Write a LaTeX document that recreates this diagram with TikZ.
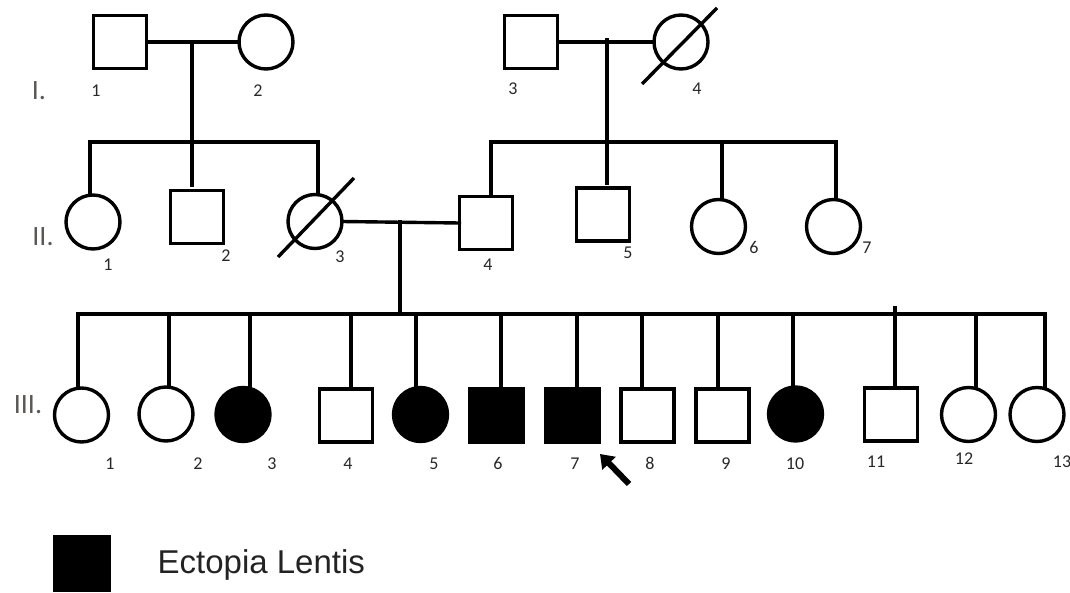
\documentclass[tikz,border=0pt]{standalone}
\usepackage{fontspec}
\setmainfont{Carlito}
\newfontfamily\legendfont{Liberation Sans}
\usetikzlibrary{arrows.meta}
\definecolor{numgray}{RGB}{40,40,40}
\definecolor{gengray}{RGB}{90,88,86}
\definecolor{legtext}{RGB}{35,35,35}

\begin{document}
\begin{tikzpicture}[x=1pt,y=-1pt,
  line width=3.4pt,
  msq/.style={draw, rectangle, minimum size=53pt, inner sep=0pt, outer sep=0pt, fill=white},
  fcirc/.style={draw, circle, minimum size=54pt, inner sep=0pt, outer sep=0pt, fill=white},
  aff/.style={fill=black},
  link/.style={line width=3.4pt, line cap=rect},
  slash/.style={line width=3.4pt},
  num/.style={font=\fontsize{18}{18}\selectfont, text=numgray, inner sep=0pt, anchor=base, yshift=-6pt},
  gen/.style={font=\fontsize{28}{28}\selectfont, text=gengray, inner sep=0pt},
]
\useasboundingbox (0,0) rectangle (1070,593);

% ---------- generation I ----------
\node[msq]   (I1) at (120,42) {};
\node[fcirc] (I2) at (266,42) {};
\node[msq]   (I3) at (531,42) {};
\node[fcirc] (I4) at (681,42) {};
\coordinate (d4a) at (642,84);
\coordinate (d4b) at (717,8);
\draw[slash] (d4a) -- (d4b);

\node[num] (nI1) at (96,91)  {1};
\node[num] (nI2) at (258,91) {2};
\node[num] (nI3) at (513,89) {3};
\node[num] (nI4) at (697,89) {4};
\node[gen] (gI) at (39,91) {I.};

% couples and descent of generation I
\coordinate (mA) at (192,42);
\coordinate (mB) at (607,40);
\coordinate (sA) at (192,142);
\coordinate (sAl) at (90,142);
\coordinate (sAr) at (318,142);
\coordinate (sBl) at (491,142);
\coordinate (sB6) at (722,142);
\coordinate (sBr) at (836,142);
\draw[link] (I1.east) -- (I2.west);
\draw[link] (I3.east) -- (I4.west);
\draw[link] (mA) -- (sA);
\draw[link] (sAl) -- (sAr);
\draw[link] (sBl) -- (sBr);

% ---------- generation II ----------
\node[fcirc] (II1) at (93,222)    {};
\node[msq]   (II2) at (197,217)   {};
\node[fcirc] (II3) at (315,221.5) {};
\node[msq]   (II4) at (486,223)   {};
\node[msq]   (II5) at (603,214.5) {};
\node[fcirc] (II6) at (718.5,226.5) {};
\node[fcirc] (II7) at (833.5,226.5) {};
\coordinate (d3a) at (278,257);
\coordinate (d3b) at (354,178);
\draw[slash] (d3a) -- (d3b);

\draw[link] (sAl) -- (sAl |- II1.north);
\draw[link, shorten >=5pt] (sA) -- (sA |- II2.north);
\draw[link] (sAr) -- (sAr |- II3.north);
\draw[link] (sBl) -- (sBl |- II4.north);
\draw[link, shorten >=5pt] (mB) -- (mB |- II5.north);
\draw[link] (sB6) -- (sB6 |- II6.north);
\draw[link] (sBr) -- (sBr |- II7.north);

\node[num] (nII1) at (108,265) {1};
\node[num] (nII2) at (226,256) {2};
\node[num] (nII3) at (340,257) {3};
\node[num] (nII4) at (488,265) {4};
\node[num] (nII5) at (628,253) {5};
\node[num] (nII6) at (754,248) {6};
\node[num] (nII7) at (867,248) {7};
\node[gen] (gII) at (43,237) {II.};

% couple II.3 x II.4 and its sibship
\coordinate (mC) at (400,222);
\coordinate (sC) at (400,314);
\coordinate (sCl) at (78,314);
\coordinate (sCr) at (1045,314);
\draw[link] (II3.east) -- (II4.west);
\draw[link] (mC) -- (sC);
\draw[link] (sCl) -- (sCr);

% ---------- generation III ----------
\node[fcirc]      (III1)  at (81.5,415)   {};
\node[fcirc]      (III2)  at (166,414)    {};
\node[fcirc,aff]  (III3)  at (243,414.5)  {};
\node[msq]        (III4)  at (346,415.5)  {};
\node[fcirc,aff]  (III5)  at (420.5,414.5){};
\node[msq,aff]    (III6)  at (496.5,415.5){};
\node[msq,aff]    (III7)  at (572.5,415.5){};
\node[msq]        (III8)  at (647.5,415.5){};
\node[msq]        (III9)  at (722.5,415.5){};
\node[fcirc,aff]  (III10) at (795.5,414)  {};
\node[msq]        (III11) at (891,414.5)  {};
\node[fcirc]      (III12) at (968.5,414.5){};
\node[fcirc]      (III13) at (1037,414.5) {};

\coordinate (c2)  at (169,314);
\coordinate (c3)  at (250,314);
\coordinate (c4)  at (351,314);
\coordinate (c5)  at (416,314);
\coordinate (c6)  at (501,314);
\coordinate (c7)  at (577,314);
\coordinate (c8)  at (642,314);
\coordinate (c9)  at (718,314);
\coordinate (c10) at (793,314);
\coordinate (c11) at (895,308);
\coordinate (c12) at (976,314);
\draw[link] (sCl) -- (sCl |- III1.north);
\draw[link] (c2)  -- (c2 |- III2.north);
\draw[link] (c3)  -- (c3 |- III3.north);
\draw[link] (c4)  -- (c4 |- III4.north);
\draw[link] (c5)  -- (c5 |- III5.north);
\draw[link] (c6)  -- (c6 |- III6.north);
\draw[link] (c7)  -- (c7 |- III7.north);
\draw[link] (c8)  -- (c8 |- III8.north);
\draw[link] (c9)  -- (c9 |- III9.north);
\draw[link] (c10) -- (c10 |- III10.north);
\draw[link] (c11) -- (c11 |- III11.north);
\draw[link] (c12) -- (c12 |- III12.north);
\draw[link] (sCr) -- (sCr |- III13.north);

\node[num] (nIII1)  at (110,463)  {1};
\node[num] (nIII2)  at (198,463)  {2};
\node[num] (nIII3)  at (272,463)  {3};
\node[num] (nIII4)  at (348,463)  {4};
\node[num] (nIII5)  at (434,463)  {5};
\node[num] (nIII6)  at (498,463)  {6};
\node[num] (nIII7)  at (575,463)  {7};
\node[num] (nIII8)  at (650,463)  {8};
\node[num] (nIII9)  at (726,463)  {9};
\node[num] (nIII10) at (795,463)  {10};
\node[num] (nIII11) at (876,461)  {11};
\node[num] (nIII12) at (964,458)  {12};
\node[num] (nIII13) at (1062,461) {13};
\node[gen] (gIII) at (28,405) {III.};

% proband arrow
\coordinate (ptail) at (629,484);
\coordinate (ptip)  at (600,454);
\draw[line width=6pt, -{Triangle[length=13pt,width=18pt]}] (ptail) -- (ptip);

% ---------- legend ----------
\node[fill=black, minimum width=58pt, minimum height=57pt, inner sep=0pt, outer sep=0pt] (legsq) at (82,563.5) {};
\node[anchor=base west, inner sep=0pt, text=legtext, font=\legendfont\fontsize{33}{33}\selectfont] (legtx) at (156,573) {Ectopia Lentis};
\end{tikzpicture}
\end{document}
